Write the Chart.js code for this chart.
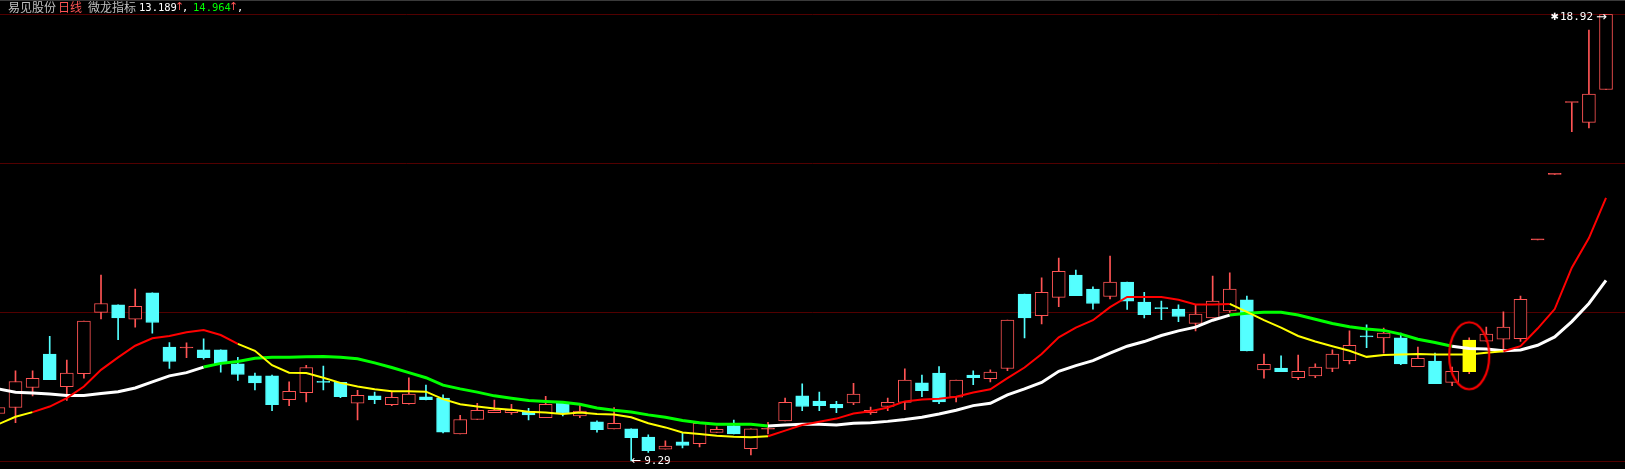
<!DOCTYPE html>
<html>
<head>
<meta charset="utf-8">
<script src="https://cdn.jsdelivr.net/npm/chart.js@4.4.1/dist/chart.umd.min.js"></script>
<style>
html,body{margin:0;padding:0;background:#000;overflow:hidden;}
#wrap{position:relative;width:1625px;height:469px;background:#000;}
#wrap canvas{position:absolute;left:0;top:0;}
#topline{position:absolute;left:0;top:0;width:1625px;height:1px;background:#3a3a3a;}
.t{position:absolute;top:0;height:14px;line-height:14px;white-space:nowrap;}
.cjk{font-family:"Noto Sans CJK SC",sans-serif;font-size:12px;}
.num{font-family:"DejaVu Sans Mono",monospace;font-size:10.5px;}
.arr{font-family:"DejaVu Sans",sans-serif;font-size:11px;}
</style>
</head>
<body>
<div id="wrap">
  <canvas id="c" width="1625" height="469"></canvas>
  <div id="topline"></div>
  <div id="title"></div>
</div>
<script>
// ---- data ----
const stockName = '易见股份';
const periodName = '日线';
const indicatorName = '微龙指标';

const open  = [10.32,10.45,10.88,11.60,10.90,11.18,12.50,12.66,12.35,12.92,
               11.75,11.73,11.69,11.69,11.39,11.13,11.13,10.62,10.77,11.00,
               10.99,10.54,10.70,10.51,10.53,10.68,10.65,9.88,10.19,10.34,
               10.34,10.35,10.23,10.54,10.27,10.14,9.99,9.99,9.81,9.55,
               9.71,9.67,9.91,10.06,9.56,9.98,10.16,10.70,10.59,10.52,
               10.55,10.34,10.47,10.56,10.98,11.19,10.67,11.15,11.07,11.29,
               12.89,12.43,12.82,13.30,13.00,12.84,13.15,12.72,12.59,12.57,
               12.26,12.38,12.53,12.77,11.26,11.30,11.09,11.13,11.29,11.46,
               11.98,11.95,11.95,11.33,11.45,10.99,11.22,11.88,11.92,11.93,
               14.06,15.47,17.02,16.59,17.30];
const high  = [10.47,11.24,11.24,11.98,11.47,12.31,13.30,12.66,13.00,12.92,
               11.85,11.84,11.93,11.69,11.53,11.19,11.15,11.00,11.36,11.34,
               10.99,10.82,10.78,10.79,11.09,10.93,10.72,10.28,10.54,10.61,
               10.52,10.43,10.69,10.54,10.50,10.16,10.45,9.99,9.86,9.73,
               9.90,10.11,10.03,10.18,9.99,10.13,10.65,10.96,10.78,10.58,
               10.97,10.46,10.65,11.28,11.15,11.33,11.04,11.24,11.26,12.33,
               12.89,13.24,13.67,13.41,13.05,13.71,13.15,12.93,12.74,12.66,
               12.66,13.28,13.35,12.85,11.60,11.56,11.58,11.39,11.69,12.10,
               12.23,12.16,12.05,11.75,11.62,11.32,11.95,12.18,12.51,12.85,
               14.06,15.47,17.02,18.58,18.92];
const low   = [10.30,10.12,10.70,11.05,10.60,11.08,12.36,11.91,12.18,12.05,
               11.29,11.52,11.49,11.21,11.03,10.83,10.38,10.49,10.57,10.83,
               10.66,10.18,10.53,10.49,10.52,10.61,9.90,9.88,10.19,10.34,
               10.30,10.18,10.23,10.27,10.23,9.92,9.99,9.29,9.48,9.55,
               9.58,9.60,9.91,9.88,9.43,9.88,10.16,10.38,10.38,10.34,
               10.51,10.30,10.38,10.40,10.68,10.53,10.57,10.94,11.00,11.24,
               11.95,12.25,12.62,12.86,12.57,12.79,12.56,12.38,12.34,12.30,
               12.10,12.38,12.50,11.67,11.08,11.22,11.05,11.09,11.22,11.39,
               11.74,11.62,11.37,11.33,10.96,10.92,11.18,11.88,11.71,11.87,
               14.06,15.47,16.39,16.47,17.30];
const close = [10.45,11.01,11.08,11.05,11.19,12.31,12.69,12.38,12.63,12.28,
               11.44,11.74,11.52,11.39,11.16,10.98,10.51,10.80,11.31,10.99,
               10.68,10.71,10.62,10.67,10.74,10.62,9.92,10.19,10.39,10.39,
               10.39,10.29,10.52,10.32,10.37,9.97,10.11,9.80,9.52,9.62,
               9.63,10.11,9.98,9.88,9.99,9.99,10.56,10.47,10.49,10.44,
               10.74,10.39,10.56,11.04,10.81,10.57,11.04,11.09,11.21,12.33,
               12.38,12.93,13.38,12.86,12.69,13.15,12.74,12.45,12.58,12.41,
               12.46,12.74,13.00,11.67,11.38,11.22,11.23,11.32,11.60,11.79,
               11.97,12.05,11.39,11.51,10.96,11.23,11.90,12.03,12.18,12.78,
               14.06,15.47,17.02,17.20,18.92];

// indicator lines
const maA = [10.09,10.25,10.35,10.47,10.65,10.90,11.26,11.53,11.78,11.94,
             11.99,12.07,12.12,12.01,11.82,11.67,11.36,11.20,11.19,11.09,
             10.98,10.90,10.84,10.80,10.80,10.79,10.63,10.52,10.47,10.43,
             10.40,10.36,10.34,10.31,10.34,10.31,10.30,10.24,10.11,10.02,
             9.91,9.88,9.84,9.82,9.81,9.83,9.95,10.07,10.14,10.21,
             10.32,10.37,10.45,10.58,10.62,10.64,10.68,10.77,10.84,11.08,
             11.31,11.60,11.96,12.17,12.33,12.61,12.83,12.83,12.83,12.77,
             12.67,12.67,12.68,12.51,12.33,12.17,11.99,11.87,11.77,11.67,
             11.54,11.58,11.59,11.60,11.59,11.59,11.59,11.63,11.66,11.77,
             12.15,12.57,13.46,14.10,14.964];
const maB = [10.85,10.78,10.76,10.74,10.71,10.71,10.75,10.79,10.87,11.00,
             11.13,11.20,11.32,11.40,11.44,11.51,11.53,11.53,11.54,11.55,
             11.53,11.50,11.41,11.31,11.20,11.09,10.93,10.85,10.78,10.70,
             10.65,10.60,10.58,10.56,10.52,10.44,10.39,10.35,10.29,10.24,
             10.17,10.12,10.09,10.09,10.09,10.05,10.07,10.09,10.09,10.07,
             10.11,10.12,10.15,10.19,10.24,10.31,10.39,10.49,10.54,10.72,
             10.85,10.99,11.23,11.35,11.46,11.62,11.77,11.87,12.00,12.10,
             12.18,12.33,12.44,12.48,12.50,12.50,12.44,12.35,12.26,12.19,
             12.14,12.11,12.03,11.92,11.85,11.77,11.72,11.71,11.67,11.69,
             11.79,11.97,12.30,12.69,13.189];

// segment phases (start index inclusive, end exclusive) where lines switch colour
const maAWeakSpans = [[0,2],[14,45],[72,88]];
const maBWeakSpans = [[12,45],[72,85]];

// highlighted signal bar
const signalIdx = 86;

// price grid levels
const yTicks = [9.29, 12.50, 15.71, 18.92];

// ---- styling ----
const RED = '#ff5454', CYAN = '#54ffff', YEL = '#ffff00';
const N = open.length;
const idx = open.map((_, i) => i);
const isUp = i => close[i] >= open[i];
const inSpans = (i, spans) => spans.some(s => i >= s[0] && i < s[1]);
const bodyColor = i => i === signalIdx ? YEL : (isUp(i) ? RED : CYAN);
const bodyFill = i => {
  if (i === signalIdx) return YEL;
  if (!isUp(i)) return CYAN;
  return Math.abs(close[i] - open[i]) < 0.02 ? RED : '#000000';
};
const wickColor = i => (isUp(i) || i === signalIdx) ? RED : CYAN;

// title
const titleParts = [
  [stockName, '#c0c0c0', 'cjk', 8],
  [periodName, RED, 'cjk', 58],
  [indicatorName, '#c0c0c0', 'cjk', 88],
  [maB[N-1].toFixed(3), '#ffffff', 'num', 139],
  ['↑', RED, 'arr', 175],
  [',', '#ffffff', 'num', 182],
  [maA[N-1].toFixed(3), '#00ff00', 'num', 193],
  ['↑', RED, 'arr', 229],
  [',', '#ffffff', 'num', 237]
];
const titleEl = document.getElementById('title');
titleParts.forEach(p => {
  const s = document.createElement('span');
  s.className = 't ' + p[2];
  s.style.left = p[3] + 'px';
  s.style.color = p[1];
  s.textContent = p[0];
  titleEl.appendChild(s);
});

// ellipse marker
const ell = document.createElement('canvas');
ell.width = 46; ell.height = 72;
(function(){
  const g = ell.getContext('2d');
  g.strokeStyle = '#ff0000';
  g.lineWidth = 2.2;
  g.beginPath();
  g.ellipse(23, 36, 20, 33.5, 0, 0, Math.PI * 2);
  g.stroke();
})();

// low / high labels
const lowVal = Math.min(...low), lowIdx = low.indexOf(lowVal);
const highVal = Math.max(...high), highIdx = high.indexOf(highVal);
const labelPlugin = {
  id: 'hlLabels',
  afterDatasetsDraw(chart) {
    const {ctx, scales: {x, y}} = chart;
    ctx.save();
    ctx.fillStyle = '#ffffff';
    ctx.textBaseline = 'middle';
    // low
    let px = x.getPixelForValue(lowIdx), py = y.getPixelForValue(lowVal);
    ctx.textAlign = 'left';
    ctx.font = '12px "DejaVu Sans"';
    ctx.fillText('←', px, py);
    ctx.font = '11px "DejaVu Sans Mono"';
    ctx.fillText(lowVal.toFixed(2), px + 13, py);
    // high
    px = x.getPixelForValue(highIdx); py = y.getPixelForValue(highVal) + 3;
    ctx.textAlign = 'right';
    ctx.font = '13px "DejaVu Sans"';
    ctx.fillText('→', px + 1, py);
    ctx.font = '11px "DejaVu Sans Mono"';
    ctx.fillText(highVal.toFixed(2), px - 13, py);
    const w = ctx.measureText(highVal.toFixed(2)).width;
    ctx.font = '10px "DejaVu Sans"';
    ctx.fillText('✱', px - 13 - w - 1, py);
    ctx.restore();
  }
};

new Chart(document.getElementById('c'), {
  type: 'bar',
  data: {
    datasets: [
      {
        type: 'line', label: 'signal',
        data: [{x: signalIdx, y: (high[signalIdx] + low[signalIdx]) / 2}],
        showLine: false, pointStyle: ell, pointRadius: 5, order: 0
      },
      {
        type: 'line', label: 'A',
        data: idx.map(i => ({x: i, y: maA[i]})),
        borderColor: '#ff0000', borderWidth: 2, pointRadius: 0, tension: 0,
        segment: {borderColor: c => inSpans(c.p0DataIndex, maAWeakSpans) ? '#ffff00' : '#ff0000'},
        order: 1
      },
      {
        type: 'line', label: 'B',
        data: idx.map(i => ({x: i, y: maB[i]})),
        borderColor: '#ffffff', borderWidth: 3, pointRadius: 0, tension: 0,
        segment: {borderColor: c => inSpans(c.p0DataIndex, maBWeakSpans) ? '#00ff00' : '#ffffff'},
        order: 2
      },
      {
        type: 'bar', label: 'body',
        data: idx.map(i => ({x: i, y: [open[i], close[i]]})),
        backgroundColor: c => bodyFill(c.dataIndex),
        borderColor: c => bodyColor(c.dataIndex),
        borderWidth: 1, borderSkipped: false, minBarLength: 1,
        grouped: false, barThickness: 13, maxBarThickness: 13,
        order: 4
      },
      {
        type: 'bar', label: 'wick',
        data: idx.map(i => ({x: i, y: [low[i], high[i]]})),
        backgroundColor: c => wickColor(c.dataIndex),
        borderWidth: 0, grouped: false, barThickness: 1, maxBarThickness: 1,
        order: 5
      }
    ]
  },
  options: {
    responsive: false,
    animation: false,
    devicePixelRatio: 1,
    layout: {autoPadding: false, padding: {left: 0, right: 0, top: 14.3, bottom: 7.7}},
    plugins: {legend: {display: false}, tooltip: {enabled: false}, title: {display: false}},
    events: [],
    scales: {
      x: {
        type: 'linear', min: 0.0936, max: 95.11, offset: false, display: false
      },
      y: {
        type: 'linear', min: yTicks[0], max: yTicks[yTicks.length - 1],
        display: true,
        afterBuildTicks: s => { s.ticks = yTicks.map(v => ({value: v})); },
        ticks: {display: false},
        grid: {color: '#520000', lineWidth: 1, drawTicks: false},
        border: {display: false}
      }
    }
  },
  plugins: [labelPlugin]
});
</script>
</body>
</html>
